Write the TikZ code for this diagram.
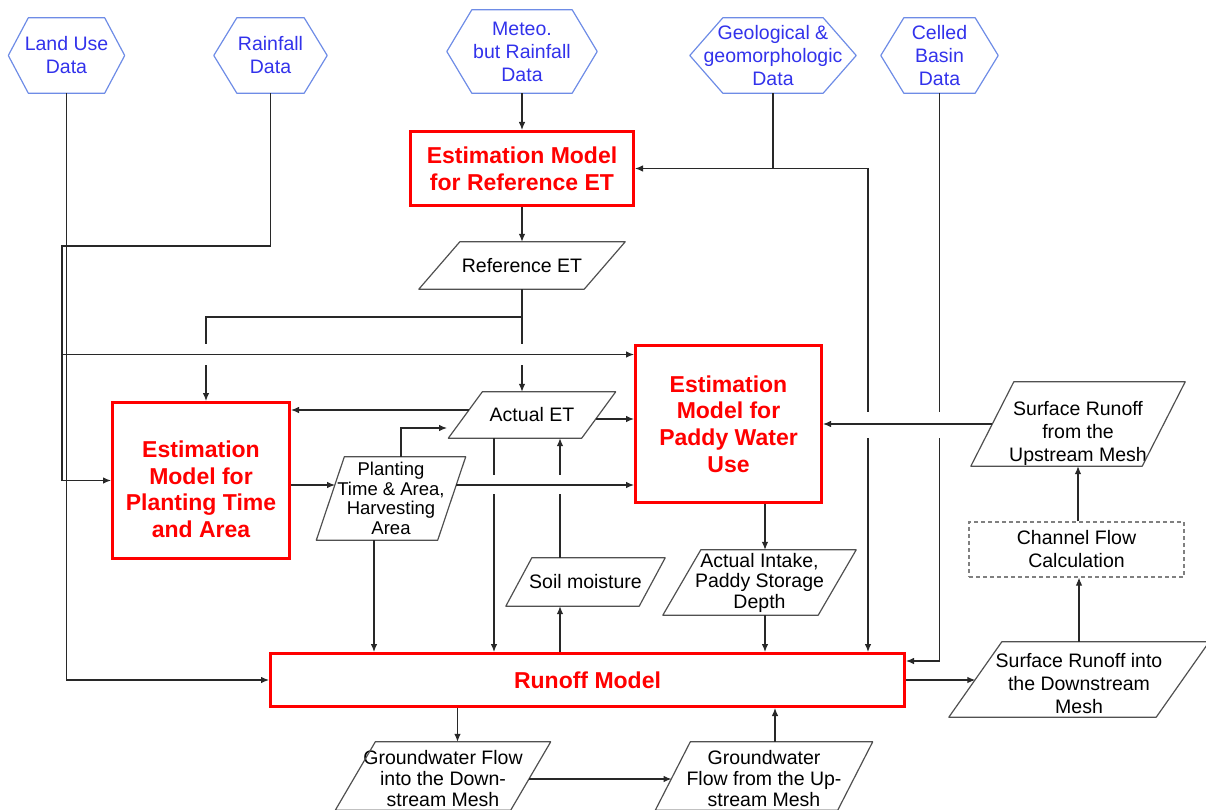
\documentclass[tikz,border=0pt]{standalone}
\usepackage{fontspec}
\setmainfont{Liberation Sans}
\usetikzlibrary{arrows.meta,calc}
\definecolor{hexblue}{RGB}{50,50,235}
\definecolor{hexedge}{RGB}{110,140,230}
\definecolor{linecol}{RGB}{40,40,40}
\definecolor{paraedge}{RGB}{80,80,80}
\definecolor{boxred}{RGB}{255,0,0}
\tikzset{
  hextext/.style={text=hexblue, font=\fontsize{19.5}{23}\selectfont, align=center, inner sep=0pt},
  hexline/.style={draw=hexedge, line width=1.2pt, line join=round},
  ptext/.style={text=black, font=\fontsize{19.5}{23}\selectfont, align=center, inner sep=0pt},
  pline/.style={draw=paraedge, line width=1.2pt, line join=round},
  redbox/.style={draw=boxred, line width=3pt, text=boxred, font=\bfseries\fontsize{23}{26.7}\selectfont, align=center, inner sep=0pt},
  chan/.style={draw=gray, line width=1.2pt, dash pattern=on 4pt off 3pt, text=black, font=\fontsize{19.5}{23}\selectfont, align=center, inner sep=0pt},
  wire/.style={draw=linecol, line width=1.1pt},
  conn/.style={wire, -{Latex[length=8pt,width=6.5pt]}},
}
\newcommand\hexnode[6]{%
  \node[hextext, minimum width=#3pt, minimum height=#4pt] (#1) at #2 {#6};
  \draw[hexline] (#1.west) -- ([xshift=#5pt]#1.north west) -- ([xshift=-#5pt]#1.north east) -- (#1.east) -- ([xshift=-#5pt]#1.south east) -- ([xshift=#5pt]#1.south west) -- cycle;
}
\newcommand\paranode[7][]{%
  \node[ptext, minimum width=#4pt, minimum height=#5pt, #1] (#2) at #3 {#7};
  \draw[pline] ([xshift=-#6pt/2]#2.south west) -- ([xshift=#6pt/2]#2.north west) -- ([xshift=#6pt/2]#2.north east) -- ([xshift=-#6pt/2]#2.south east) -- cycle;
}
\newcommand\topstrut[1]{\rule{0pt}{#1pt}}
\begin{document}
\begin{tikzpicture}[x=1pt,y=-1pt]
\useasboundingbox (0,0) rectangle (1206,810);
% data sources
\hexnode{land}{(66.5,55.5)}{116}{75}{20}{Land Use\\Data}
\hexnode{rain}{(270.5,55.5)}{113}{75}{23}{Rainfall\\Data}
\hexnode{meteo}{(522,51.5)}{150}{83}{25}{Meteo.\\but Rainfall\\Data}
\hexnode{geo}{(773,55.5)}{166}{75}{33}{Geological \&\\geomorphologic\\Data}
\hexnode{celled}{(939.5,55.5)}{117}{75}{23}{Celled\\Basin\\Data}
% models
\node[redbox, minimum width=223pt, minimum height=74pt] (ref) at (522,168.5) {Estimation Model\\for Reference ET};
\node[redbox, minimum width=177pt, minimum height=156pt] (plant) at (201,480.5) {\topstrut{34}Estimation\\Model for\\Planting Time\\and Area};
\node[redbox, minimum width=186pt, minimum height=157pt] (paddy) at (728.5,424) {Estimation\\Model for\\Paddy Water\\Use};
\node[redbox, minimum width=634pt, minimum height=53pt] (runoff) at (587.5,680) {Runoff Model};
% data items
\paranode{refet}{(522,265.5)}{165}{47}{41}{Reference ET}
\paranode{aet}{(532,415)}{133}{46}{34}{Actual ET}
\paranode[font=\fontsize{18.5}{19.5}\selectfont]{ppara}{(391,498.5)}{121}{83}{28}{Planting\\Time \& Area,\\Harvesting\\Area}
\paranode{soil}{(585.5,582)}{133}{48}{26}{Soil moisture}
\paranode[font=\fontsize{19.5}{20.5}\selectfont]{intake}{(759.5,582.5)}{155}{65}{38}{Actual Intake,\\Paddy Storage\\Depth}
\paranode{sup}{(1078,424)}{171}{84}{43}{\topstrut{33}Surface Runoff\\from the\\Upstream Mesh}
\paranode{sdown}{(1079,679.5)}{207}{75}{53}{\topstrut{22}Surface Runoff into\\the Downstream\\Mesh}
\paranode[font=\fontsize{19.5}{21}\selectfont]{gwd}{(443,776)}{175}{68}{40}{\topstrut{20}Groundwater Flow\\into the  Down-\\stream Mesh}
\paranode[font=\fontsize{19.5}{21}\selectfont]{gwu}{(764,776)}{182}{68}{35}{\topstrut{20}Groundwater\\Flow from the Up-\\stream Mesh}
\node[chan, minimum width=215pt, minimum height=55pt] (channel) at (1076.5,549.5) {Channel Flow\\Calculation};
% helper coordinates
\coordinate (rj) at (62,246);
\coordinate (gj) at (868,168.5);
\coordinate (cj) at (939.5,661);
\coordinate (rj2) at (522,317);
\coordinate (pl) at (206,317);
\coordinate (pp) at (401,428);
\coordinate (aetin) at (447,428);
\coordinate (pd) at (374,0);
\coordinate (xa) at (494,0);
\coordinate (xs) at (560,0);
\coordinate (xi) at (765,0);
\coordinate (xg1) at (457.5,0);
\coordinate (xg2) at (775,0);
% vertical connectors
\draw[conn] (land.south) -- (land.south |- runoff.west) -- (runoff.west);
\draw[conn] (rain.south) |- (rj) -- (rj |- plant.west) -- (plant.west);
\draw[conn] (meteo.south) -- (ref.north);
\draw[wire] (geo.south) |- (gj);
\draw[conn] (gj) -- (ref.east);
\draw[conn] (gj) -- (gj |- runoff.north);
\draw[conn] (celled.south) -- (cj) -- (cj -| runoff.east);
\draw[conn] (ref.south) -- (refet.north);
\draw[wire] (refet.south) -- (rj2);
\draw[conn] (rj2) -- (rj2 |- aet.north);
\draw[conn] (rj2) -- (pl) -- (pl |- plant.north);
\draw[conn] (pp |- ppara.north) -- (pp) -- (aetin);
\draw[conn] (pd |- ppara.south) -- (pd |- runoff.north);
\draw[conn] (xa |- aet.south) -- (xa |- runoff.north);
\draw[conn] (xs |- runoff.north) -- (xs |- soil.south);
\draw[conn] (xs |- soil.north) -- (xs |- aet.south);
\draw[conn] (xi |- paddy.south) -- (xi |- intake.north);
\draw[conn] (xi |- intake.south) -- (xi |- runoff.north);
\draw[conn] (sdown.north) -- (sdown.north |- channel.south);
\draw[conn] (sup.south |- channel.north) -- (sup.south);
\draw[conn] (xg1 |- runoff.south) -- (xg1 |- gwd.north);
\draw[conn] (xg2 |- gwu.north) -- (xg2 |- runoff.south);
% line hops
\fill[white] (201,344) rectangle (211,365);
\fill[white] (517,344) rectangle (527,365);
\fill[white] (489,475) rectangle (499,494);
\fill[white] (555,475) rectangle (565,494);
\fill[white] (863,412) rectangle (873,438);
\fill[white] (935,412) rectangle (945,438);
% horizontal connectors
\coordinate (pj) at (62,354.5);
\coordinate (ae1) at (469,410);
\coordinate (ae2) at (595.5,419);
\coordinate (pa1) at (335,485);
\coordinate (pa2) at (456,485);
\coordinate (g1) at (529,779);
\coordinate (g2) at (671.5,779);
\draw[conn] (pj) -- (pj -| paddy.west);
\draw[conn] (ae1) -- (ae1 -| plant.east);
\draw[conn] (ae2) -- (ae2 -| paddy.west);
\draw[conn] (pa1 -| plant.east) -- (pa1);
\draw[conn] (pa2) -- (pa2 -| paddy.west);
\draw[conn] (sup.west) -- (sup.west -| paddy.east);
\draw[conn] (runoff.east) -- (runoff.east -| sdown.west);
\draw[conn] (g1) -- (g2);
\end{tikzpicture}
\end{document}
